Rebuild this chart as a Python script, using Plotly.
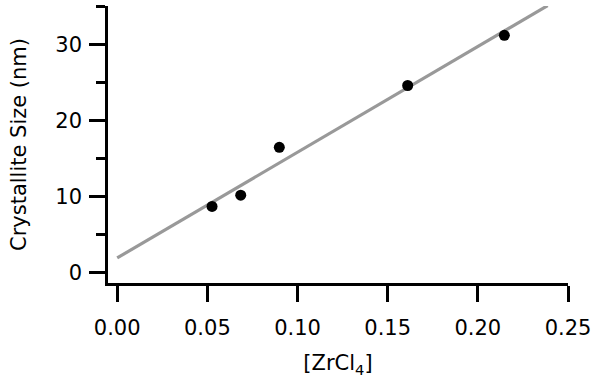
import plotly.graph_objects as go

conc = [0.0526, 0.0685, 0.0899, 0.1611, 0.2147]
size_nm = [8.67, 10.16, 16.45, 24.59, 31.19]
fit_x = [0.0, 0.2387]
fit_y = [1.9, 35.1]

FONT = "DejaVu Sans"

fig = go.Figure()
fig.add_trace(go.Scatter(x=fit_x, y=fit_y, mode="lines",
                         line=dict(color="#999999", width=3.2), showlegend=False))
fig.add_trace(go.Scatter(x=conc, y=size_nm, mode="markers",
                         marker=dict(color="black", size=11), showlegend=False))

fig.update_layout(
    width=597, height=379,
    margin=dict(l=108, r=27, t=6, b=96),
    plot_bgcolor="white", paper_bgcolor="white",
    font=dict(family=FONT, size=21, color="black"),
)
fig.update_xaxes(
    range=[-0.0051, 0.25], showgrid=False, zeroline=False,
    showline=True, linecolor="black", linewidth=2.5,
    ticks="outside", ticklen=16, tickwidth=2.5, tickcolor="black",
    dtick=0.05, tick0=0, tickformat=".2f",
    ticklabelstandoff=8,
    title=dict(text="[ZrCl<sub>4</sub>]", font=dict(size=21), standoff=17),
)
fig.update_yaxes(
    range=[-1.4, 35.05], showgrid=False, zeroline=False,
    showline=True, linecolor="black", linewidth=2.5,
    ticks="outside", ticklen=16, tickwidth=2.5, tickcolor="black",
    dtick=10, tick0=0,
    minor=dict(dtick=5, tick0=0, ticks="outside", ticklen=9, tickwidth=2.5, tickcolor="black", showgrid=False),
    ticklabelstandoff=3,
    title=dict(text="Crystallite Size (nm)", font=dict(size=21), standoff=23),
)

fig.write_html("out.html", config={"displayModeBar": False},
               post_script="document.body.style.margin='0';")
